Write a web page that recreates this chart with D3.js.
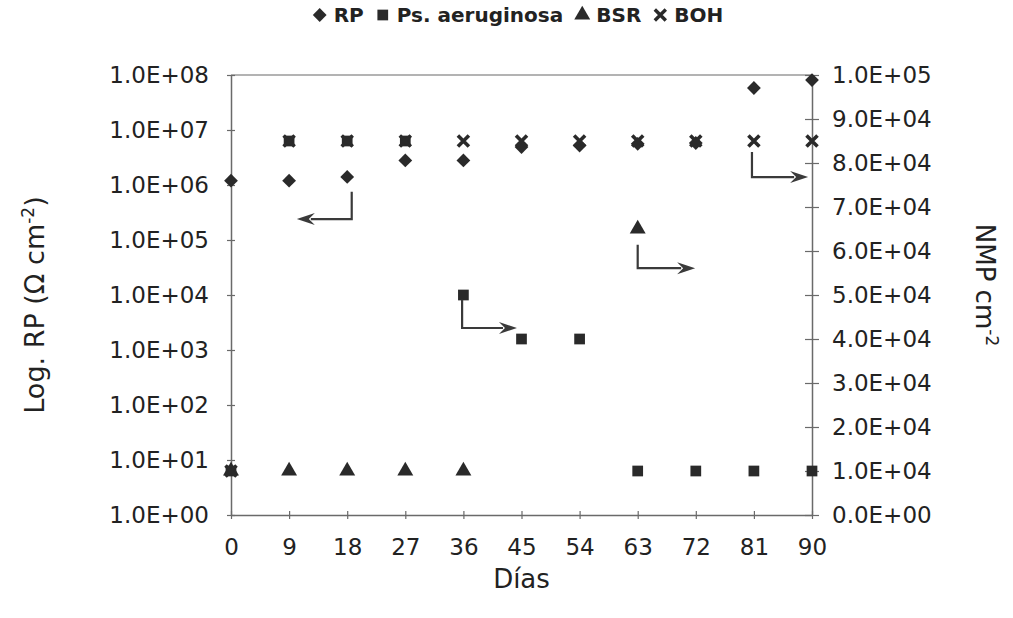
<!DOCTYPE html>
<html>
<head>
<meta charset="utf-8">
<script src="https://cdn.jsdelivr.net/npm/d3@7"></script>
<style>
  body { margin: 0; background: #fff; }
  text { font-family: "DejaVu Sans", Verdana, sans-serif; fill: #222; }
</style>
</head>
<body>
<div id="chart"></div>
<script>
// x axis
const days = [0, 9, 18, 27, 36, 45, 54, 63, 72, 81, 90];

// RP on the left (log) axis
const rpDays = [0, 9, 18, 27, 36, 45, 54, 63, 72, 81, 90];
const rpValues = [1.2e6, 1.2e6, 1.4e6, 2.8e6, 2.8e6, 4.9e6, 5.2e6, 5.6e6, 5.8e6, 5.8e7, 8.1e7];

// bacteria counts on the right (linear) axis
const psDays = [0, 9, 18, 27, 36, 45, 54, 63, 72, 81, 90];
const psValues = [1e4, 8.5e4, 8.5e4, 8.5e4, 5.0e4, 4.0e4, 4.0e4, 1e4, 1e4, 1e4, 1e4];

const bsrDays = [0, 9, 18, 27, 36, 63];
const bsrValues = [1e4, 1e4, 1e4, 1e4, 1e4, 6.5e4];

const bohDays = [0, 9, 18, 27, 36, 45, 54, 63, 72, 81, 90];
const bohValues = [1e4, 8.5e4, 8.5e4, 8.5e4, 8.5e4, 8.5e4, 8.5e4, 8.5e4, 8.5e4, 8.5e4, 8.5e4];

const leftTicks = [1e0, 1e1, 1e2, 1e3, 1e4, 1e5, 1e6, 1e7, 1e8];
const rightTicks = [0, 1e4, 2e4, 3e4, 4e4, 5e4, 6e4, 7e4, 8e4, 9e4, 1e5];

// elbow arrows, in data units: [day, value] points, last one is the tip
const arrows = [
  {axis: "left",  pts: [[18.7, 7.5e5], [18.7, 2.4e5], [10.2, 2.4e5]]},
  {axis: "right", pts: [[35.8, 4.89e4], [35.8, 4.25e4], [44.3, 4.25e4]]},
  {axis: "right", pts: [[63.0, 6.14e4], [63.0, 5.61e4], [71.9, 5.61e4]]},
  {axis: "right", pts: [[80.7, 8.25e4], [80.7, 7.68e4], [89.4, 7.68e4]]}
];

const W = 1013, H = 618;
const margin = {top: 75, right: 201, bottom: 103, left: 231};
const width = W - margin.left - margin.right;
const height = H - margin.top - margin.bottom;
const ink = "#2a2a2a";
const axisColor = "#6a6a6a";

const svg = d3.select("#chart").append("svg")
  .attr("width", W).attr("height", H);
svg.append("rect").attr("width", W).attr("height", H).attr("fill", "#fff");

const g = svg.append("g").attr("transform", `translate(${margin.left},${margin.top})`);

const x = d3.scaleLinear().domain([0, 90]).range([0, width]);
const yL = d3.scaleLog().domain([1, 1e8]).range([height, 0]);
const yR = d3.scaleLinear().domain([0, 1e5]).range([height, 0]);

const fmtExp = v => {
  if (v === 0) return "0.0E+00";
  const e = Math.floor(Math.log10(v) + 1e-9);
  const m = v / Math.pow(10, e);
  return m.toFixed(1) + "E+" + String(e).padStart(2, "0");
};

// top frame line
g.append("line").attr("x1", 0).attr("x2", width).attr("y1", 0).attr("y2", 0)
  .attr("stroke", "#9a9a9a").attr("stroke-width", 1.5);

// axes
const xAxis = g.append("g").attr("transform", `translate(0,${height})`)
  .call(d3.axisBottom(x).tickValues(days).tickSize(0).tickPadding(24).tickFormat(d3.format("d")));
xAxis.selectAll(".tick line").attr("y1", -4).attr("y2", 4);

const lAxis = g.append("g")
  .call(d3.axisLeft(yL).tickValues(leftTicks).tickSize(0).tickPadding(22).tickFormat(fmtExp));
lAxis.selectAll(".tick line").attr("x1", -4).attr("x2", 4);

const rAxis = g.append("g").attr("transform", `translate(${width},0)`)
  .call(d3.axisRight(yR).tickValues(rightTicks).tickSize(0).tickPadding(20).tickFormat(fmtExp));
rAxis.selectAll(".tick line").attr("x1", -7).attr("x2", 7);

[xAxis, lAxis, rAxis].forEach(a => {
  a.select(".domain").attr("stroke", axisColor).attr("stroke-width", 1.5);
  a.selectAll(".tick line").attr("stroke", axisColor).attr("stroke-width", 1.2);
  a.selectAll(".tick text").attr("font-size", 23).attr("fill", "#222")
    .attr("font-family", "DejaVu Sans, sans-serif");
});

// axis titles
svg.append("text")
  .attr("transform", `translate(44,${margin.top + height / 2 + 10}) rotate(-90)`)
  .attr("text-anchor", "middle").attr("font-size", 27)
  .html('Log. RP (Ω cm<tspan dy="-10" font-size="17">-2</tspan><tspan dy="10">)</tspan>');

svg.append("text")
  .attr("transform", `translate(976,${margin.top + height / 2 - 10}) rotate(90)`)
  .attr("text-anchor", "middle").attr("font-size", 26)
  .html('NMP cm<tspan dy="-10" font-size="17">-2</tspan>');

svg.append("text")
  .attr("x", margin.left + width / 2).attr("y", 588)
  .attr("text-anchor", "middle").attr("font-size", 26)
  .text("Días");

// marker shapes
const diamond = d3.symbol(d3.symbolSquare, 95)();
const square = d3.symbol(d3.symbolSquare, 115)();
const triangle = d3.symbol(d3.symbolTriangle, 110)();
const cross = "M-5.5,-5.5L5.5,5.5M5.5,-5.5L-5.5,5.5";

function drawPoints(dx, dy, yScale, path, opts) {
  const pts = dx.map((d, i) => [d, dy[i]]);
  g.append("g").selectAll("path").data(pts).join("path")
    .attr("d", path)
    .attr("transform", d => `translate(${x(d[0])},${yScale(d[1])})` + (opts.rotate ? " rotate(45)" : ""))
    .attr("fill", opts.stroke ? "none" : ink)
    .attr("stroke", opts.stroke ? ink : "none")
    .attr("stroke-width", opts.stroke ? 3.6 : 0);
}

drawPoints(bsrDays, bsrValues, yR, triangle, {});
drawPoints(psDays, psValues, yR, square, {});
drawPoints(rpDays, rpValues, yL, diamond, {rotate: true});
drawPoints(bohDays, bohValues, yR, cross, {stroke: true});

// arrows
const arrowLine = d3.line();
arrows.forEach(a => {
  const ys = a.axis === "left" ? yL : yR;
  const p = a.pts.map(d => [x(d[0]), ys(d[1])]);
  const tip = p[p.length - 1];
  const prev = p[p.length - 2];
  const dir = Math.sign(tip[0] - prev[0]);
  const base = [tip[0] - dir * 14, tip[1]];
  g.append("path").attr("d", arrowLine([p[0], p[1], base]))
    .attr("fill", "none").attr("stroke", "#3a3a3a").attr("stroke-width", 2.2);
  g.append("path")
    .attr("d", `M${tip[0]},${tip[1]}L${tip[0] - dir * 18},${tip[1] - 6}L${tip[0] - dir * 12},${tip[1]}L${tip[0] - dir * 18},${tip[1] + 6}Z`)
    .attr("fill", "#3a3a3a");
});

// legend
const legendItems = [
  {label: "RP", path: diamond, rotate: true},
  {label: "Ps. aeruginosa", path: square},
  {label: "BSR", path: triangle},
  {label: "BOH", path: cross, stroke: true}
];
const legend = svg.append("g");
let lx = 0;
legendItems.forEach(it => {
  legend.append("path").attr("d", it.path)
    .attr("transform", `translate(${lx + 7},0)` + (it.rotate ? " rotate(45)" : ""))
    .attr("fill", it.stroke ? "none" : ink)
    .attr("stroke", it.stroke ? ink : "none").attr("stroke-width", it.stroke ? 3.4 : 0);
  const t = legend.append("text").attr("x", lx + 21).attr("y", 7)
    .attr("font-size", 20).attr("font-weight", "bold").attr("fill", "#222").text(it.label);
  lx += 21 + t.node().getComputedTextLength() + 12;
});
legend.attr("transform", `translate(${518 - (lx - 12) / 2},15)`);
</script>
</body>
</html>
